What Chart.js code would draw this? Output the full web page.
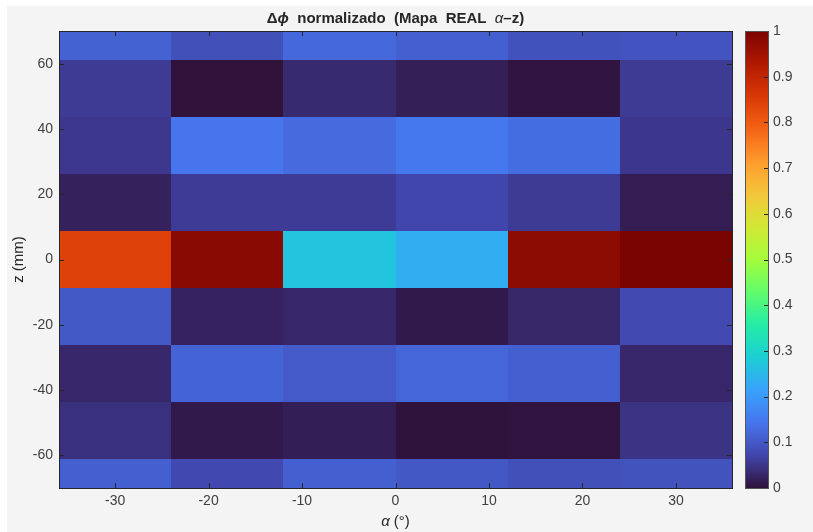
<!DOCTYPE html>
<html>
<head>
<meta charset="utf-8">
<script src="https://cdn.jsdelivr.net/npm/chart.js@4.4.1/dist/chart.umd.min.js"></script>
<style>
  html, body { margin: 0; padding: 0; background: #ffffff; }
  #wrap { position: absolute; left: 7px; top: 6px; width: 806px; height: 526px; background: #f4f4f4; }
</style>
</head>
<body>
<div id="wrap"><canvas id="heat" width="806" height="526"></canvas></div>
<script>
// cell centres (alpha in degrees, z in mm)
const alphaCenters = [-30, -18, -6, 6, 18, 30];
const zCenters = [70, 52.5, 35, 17.5, 0, -17.5, -35, -52.5, -70];
const cellW = 12;
const cellH = 17.5;

// normalised delta-phi, one row per z (top to bottom)
const dphi = [
  [0.114, 0.088, 0.125, 0.111, 0.091, 0.094],
  [0.057, 0.000, 0.033, 0.018, 0.003, 0.057],
  [0.053, 0.143, 0.128, 0.148, 0.131, 0.052],
  [0.022, 0.058, 0.058, 0.073, 0.057, 0.015],
  [0.843, 0.980, 0.268, 0.233, 0.977, 1.000],
  [0.101, 0.023, 0.030, 0.010, 0.029, 0.079],
  [0.030, 0.116, 0.103, 0.120, 0.111, 0.030],
  [0.043, 0.010, 0.017, 0.001, 0.002, 0.046],
  [0.111, 0.077, 0.111, 0.100, 0.088, 0.092]
];

const xTicks = [-30, -20, -10, 0, 10, 20, 30];
const yTicks = [-60, -40, -20, 0, 20, 40, 60];
const cbTicks = [0, 0.1, 0.2, 0.3, 0.4, 0.5, 0.6, 0.7, 0.8, 0.9, 1];

// turbo colormap, 15 evenly spaced stops
const turboStops = ["#30123b", "#4145ab", "#4675ed", "#39a2fc", "#1bcfd4", "#24eca6", "#61fc6c",
  "#a4fc3b", "#d1e834", "#f3c63a", "#fe9b2d", "#f36315", "#d93806", "#b11901", "#7a0402"];
const stopRgb = turboStops.map(h => [1, 3, 5].map(i => parseInt(h.substr(i, 2), 16)));

function turbo(t) {
  t = Math.max(0, Math.min(1, t));
  const pos = t * (stopRgb.length - 1);
  const i = Math.min(Math.floor(pos), stopRgb.length - 2);
  const f = pos - i;
  const a = stopRgb[i], b = stopRgb[i + 1];
  const c = k => Math.round(a[k] + (b[k] - a[k]) * f);
  return "rgb(" + c(0) + "," + c(1) + "," + c(2) + ")";
}

const points = [];
zCenters.forEach((z, i) => alphaCenters.forEach((a, j) => points.push({ x: a, y: z, v: dphi[i][j] })));

const axisColor = "#262626";
const fam = "'Liberation Sans', Arial, sans-serif";
const tickFont = { family: fam, size: 14 };

// draws the cells, axes box, ticks, colorbar and titles
const heatPlugin = {
  id: "heat",
  beforeDatasetsDraw(chart) {
    const { ctx, chartArea: area, scales } = chart;
    const xs = scales.x, ys = scales.y;
    ctx.save();
    ctx.beginPath();
    ctx.rect(area.left, area.top, area.right - area.left, area.bottom - area.top);
    ctx.clip();
    points.forEach(p => {
      const x0 = Math.round(xs.getPixelForValue(p.x - cellW / 2));
      const x1 = Math.round(xs.getPixelForValue(p.x + cellW / 2));
      const y0 = Math.round(ys.getPixelForValue(p.y + cellH / 2));
      const y1 = Math.round(ys.getPixelForValue(p.y - cellH / 2));
      ctx.fillStyle = turbo(p.v);
      ctx.fillRect(x0, y0, x1 - x0, y1 - y0);
    });
    ctx.restore();
  },
  afterDraw(chart) {
    const { ctx, chartArea: area, scales } = chart;
    const xs = scales.x, ys = scales.y, cs = scales.cb;
    ctx.save();
    // ticks (inward, both sides)
    ctx.strokeStyle = axisColor;
    ctx.lineWidth = 1;
    ctx.beginPath();
    xTicks.forEach(v => {
      const x = Math.round(xs.getPixelForValue(v)) + 0.5;
      ctx.moveTo(x, area.bottom); ctx.lineTo(x, area.bottom - 5);
      ctx.moveTo(x, area.top); ctx.lineTo(x, area.top + 5);
    });
    yTicks.forEach(v => {
      const y = Math.round(ys.getPixelForValue(v)) + 0.5;
      ctx.moveTo(area.left, y); ctx.lineTo(area.left + 5, y);
      ctx.moveTo(area.right, y); ctx.lineTo(area.right - 5, y);
    });
    ctx.stroke();
    // box
    ctx.strokeRect(Math.round(area.left) + 0.5, Math.round(area.top) + 0.5,
      Math.round(area.right - area.left), Math.round(area.bottom - area.top));

    // colorbar
    const cbL = Math.round(area.right) + 13, cbW = 23;
    const cTop = Math.round(cs.getPixelForValue(1)), cBot = Math.round(cs.getPixelForValue(0));
    const grad = ctx.createLinearGradient(0, cBot, 0, cTop);
    for (let k = 0; k <= 56; k++) grad.addColorStop(k / 56, turbo(k / 56));
    ctx.fillStyle = grad;
    ctx.fillRect(cbL, cTop, cbW, cBot - cTop);
    ctx.strokeStyle = axisColor;
    ctx.beginPath();
    cbTicks.forEach(v => {
      if (v === 0 || v === 1) return;
      const y = Math.round(cs.getPixelForValue(v)) + 0.5;
      ctx.moveTo(cbL + cbW, y); ctx.lineTo(cbL + cbW - 4, y);
    });
    ctx.stroke();
    ctx.strokeStyle = "#555555";
    ctx.strokeRect(cbL + 0.5, cTop + 0.5, cbW, cBot - cTop);
    ctx.fillStyle = "#404040";
    ctx.font = "14px " + fam;
    ctx.textAlign = "left";
    ctx.textBaseline = "middle";
    cbTicks.forEach(v => {
      ctx.fillText(String(v), cbL + cbW + 5, cs.getPixelForValue(v));
    });

    // title with mixed styles
    drawParts(ctx, [
      { t: "\u0394", f: "bold 15px " + fam },
      { t: "\u03d5", f: "italic bold 15px " + fam },
      { t: "  normalizado  (Mapa  REAL  ", f: "bold 15px " + fam },
      { t: "\u03b1", f: "italic 15px " + fam },
      { t: "\u2013z)", f: "bold 15px " + fam }
    ], (area.left + area.right) / 2, area.top - 8, "#262626");

    // x axis label
    drawParts(ctx, [
      { t: "\u03b1", f: "italic 15px " + fam },
      { t: " (\u00b0)", f: "15px " + fam }
    ], (area.left + area.right) / 2, area.bottom + 38, "#262626");

    // y axis label
    ctx.save();
    ctx.translate(12, (area.top + area.bottom) / 2);
    ctx.rotate(-Math.PI / 2);
    ctx.fillStyle = "#262626";
    ctx.font = "15px " + fam;
    ctx.textAlign = "center";
    ctx.textBaseline = "middle";
    ctx.fillText("z (mm)", 0, 0);
    ctx.restore();
    ctx.restore();
  }
};

function drawParts(ctx, parts, cx, baseY, color) {
  let total = 0;
  parts.forEach(p => { ctx.font = p.f; total += ctx.measureText(p.t).width; });
  let x = cx - total / 2;
  ctx.fillStyle = color;
  ctx.textAlign = "left";
  ctx.textBaseline = "alphabetic";
  parts.forEach(p => {
    ctx.font = p.f;
    ctx.fillText(p.t, x, baseY);
    x += ctx.measureText(p.t).width;
  });
}

const config = {
  type: "scatter",
  data: {
    datasets: [{
      label: "dphi",
      data: points,
      pointRadius: 0,
      pointHoverRadius: 0
    }]
  },
  options: {
    responsive: false,
    animation: false,
    events: [],
    layout: { padding: { top: 25, right: 0, left: 0, bottom: 0 } },
    plugins: {
      legend: { display: false },
      tooltip: { enabled: false }
    },
    scales: {
      x: {
        type: "linear",
        min: -36,
        max: 36,
        grid: { display: false, drawTicks: false },
        border: { display: false },
        ticks: { font: tickFont, color: "#404040", padding: 5, maxRotation: 0 },
        afterBuildTicks: s => { s.ticks = xTicks.map(v => ({ value: v })); },
        afterFit: s => { s.height = 44; }
      },
      y: {
        type: "linear",
        min: -70,
        max: 70,
        grid: { display: false, drawTicks: false },
        border: { display: false },
        ticks: { font: tickFont, color: "#404040", padding: 6 },
        afterBuildTicks: s => { s.ticks = yTicks.map(v => ({ value: v })); },
        afterFit: s => { s.width = 52; }
      },
      cb: {
        type: "linear",
        position: "right",
        min: 0,
        max: 1,
        grid: { display: false, drawTicks: false },
        border: { display: false },
        ticks: { display: false },
        afterBuildTicks: s => { s.ticks = cbTicks.map(v => ({ value: v })); },
        afterFit: s => { s.width = 81; }
      }
    }
  },
  plugins: [heatPlugin]
};

const heatChart = new Chart(document.getElementById("heat"), config);
</script>
</body>
</html>
